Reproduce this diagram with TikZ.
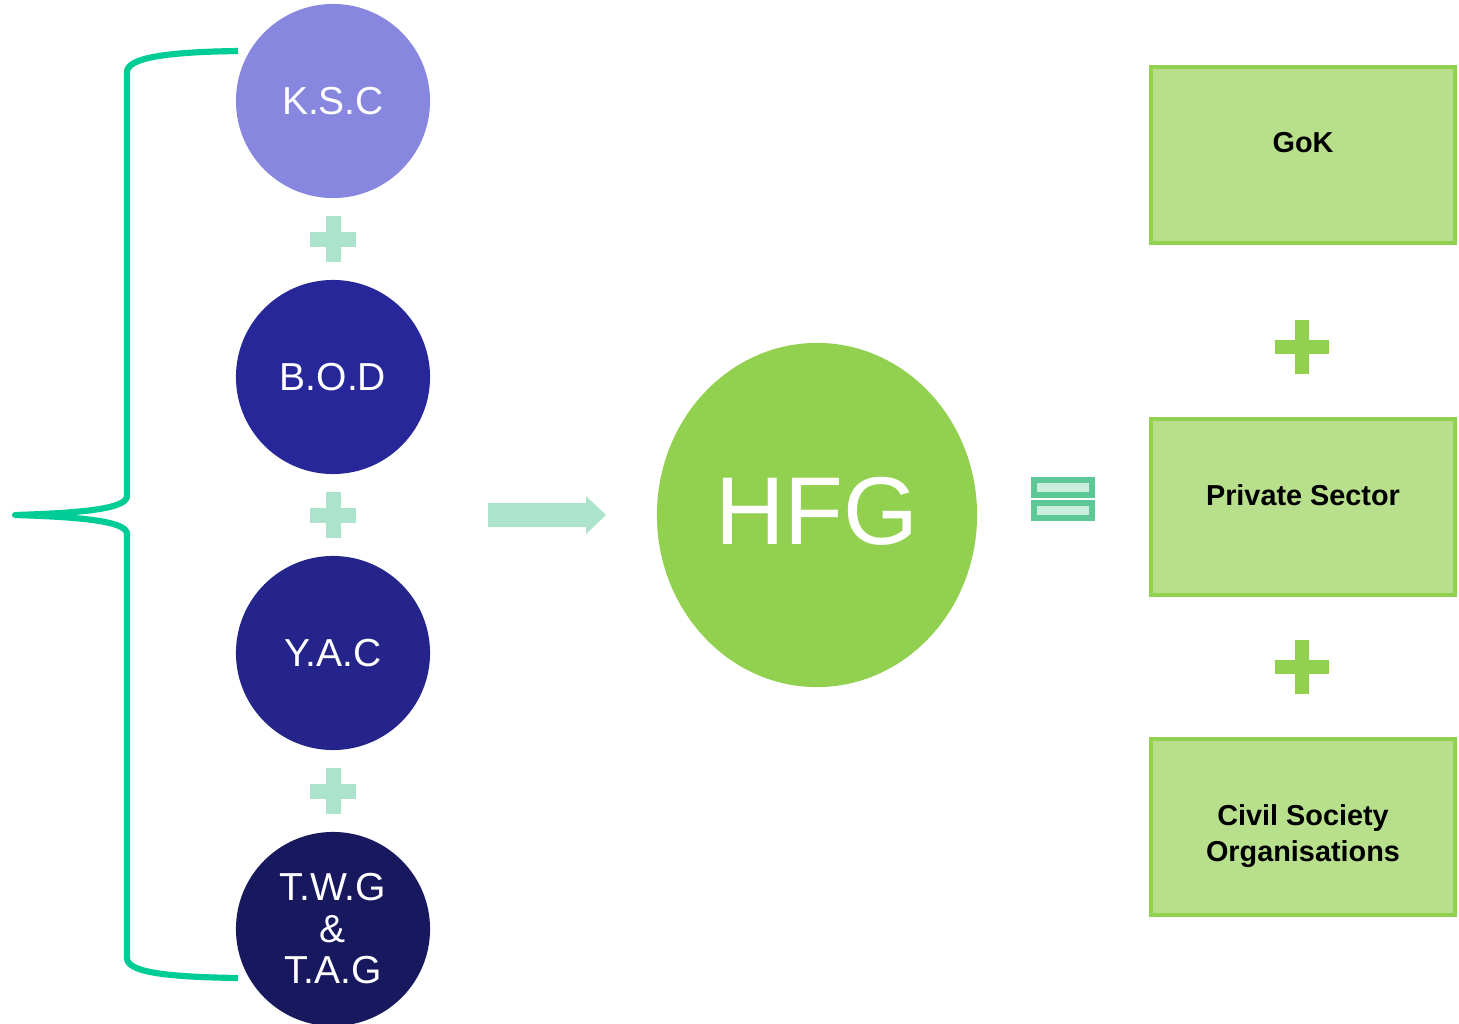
\documentclass[tikz,border=0pt]{standalone}
\usepackage{fontspec}
\setmainfont{Liberation Sans}
\usetikzlibrary{shapes.geometric}
\definecolor{kscC}{HTML}{8787DF}
\definecolor{bodC}{HTML}{27279A}
\definecolor{yacC}{HTML}{24248A}
\definecolor{twgC}{HTML}{18185E}
\definecolor{plusL}{HTML}{ABE3CC}
\definecolor{braceC}{HTML}{00CC96}
\definecolor{hfgC}{HTML}{92D050}
\definecolor{boxF}{HTML}{B8E08C}
\definecolor{eqD}{HTML}{5CC896}
\definecolor{eqL}{HTML}{CCEEDD}
\begin{document}
\begin{tikzpicture}[x=0.01cm,y=-0.01cm,
  circ/.style={circle,minimum size=1.94cm,inner sep=0pt,text=white,align=center,
    font=\fontsize{11.1}{11.8}\selectfont},
  gbox/.style={rectangle,draw=hfgC,line width=1.3pt,fill=boxF,minimum width=3.04cm,minimum height=1.76cm,inner sep=0pt},
  btext/.style={font=\bfseries\fontsize{8.2}{10.2}\selectfont,align=center,text=black},
  brace/.style={draw=braceC,line width=1.75pt,line cap=round}]
\useasboundingbox (0,0) rectangle (1459,1024);
% left circles
\node[circ,fill=kscC] (ksc) at (333,101) {K.S.C};
\node[circ,fill=bodC] (bod) at (333,377) {B.O.D};
\node[circ,fill=yacC] (yac) at (333,653) {Y.A.C};
\node[circ,fill=twgC] (twg) at (333,929) {T.W.G\\\&\\T.A.G};
% light plus signs
\foreach \n/\y in {p1/239,p2/515,p3/791}{
  \fill[plusL] (333-23,\y-7.5) rectangle (333+23,\y+7.5);
  \fill[plusL] (333-7.5,\y-23) rectangle (333+7.5,\y+23);
}
% brace
\coordinate (bt) at (238,51);
\coordinate (bb) at (238,978);
\coordinate (tip) at (15,515);
\draw[brace,line cap=butt] (bt) .. controls (165,52) and (127,58) .. (127,72) -- (127,496)
  .. controls (127,509) and (80,513) .. (tip)
  .. controls (80,517) and (127,521) .. (127,534) -- (127,958)
  .. controls (127,972) and (165,977) .. (bb);
\fill[braceC] (tip) circle (0.87pt);
% arrow
\coordinate (a0) at (488,515);
\fill[plusL] (488,503) -- (586,503) -- (586,496) -- (606,515) -- (586,534) -- (586,527) -- (488,527) -- cycle;
% HFG
\node[ellipse,minimum width=3.2cm,minimum height=3.44cm,inner sep=0pt,fill=hfgC] (hfg) at (817,515) {};
\node[text=white,font=\fontsize{27.4}{28}\selectfont] (hfgt) at (817,511) {HFG};
% equals
\draw[draw=eqD,fill=eqL,line width=1.7pt] (1034,480) rectangle (1092,495);
\draw[draw=eqD,fill=eqL,line width=1.7pt] (1034,503) rectangle (1092,518);
% right boxes
\node[gbox] (gok) at (1303,155) {};
\node[btext] at (1303,143) {GoK};
\node[gbox] (pri) at (1303,507) {};
\node[btext] at (1303,495) {Private Sector};
\node[gbox] (cso) at (1303,827) {};
\node[btext] at (1303,836) {Civil Society\\Organisations};
% green plus signs
\foreach \y in {347,667}{
  \fill[hfgC] (1302-27,\y-7) rectangle (1302+27,\y+7);
  \fill[hfgC] (1302-7,\y-27) rectangle (1302+7,\y+27);
}
\end{tikzpicture}
\end{document}
